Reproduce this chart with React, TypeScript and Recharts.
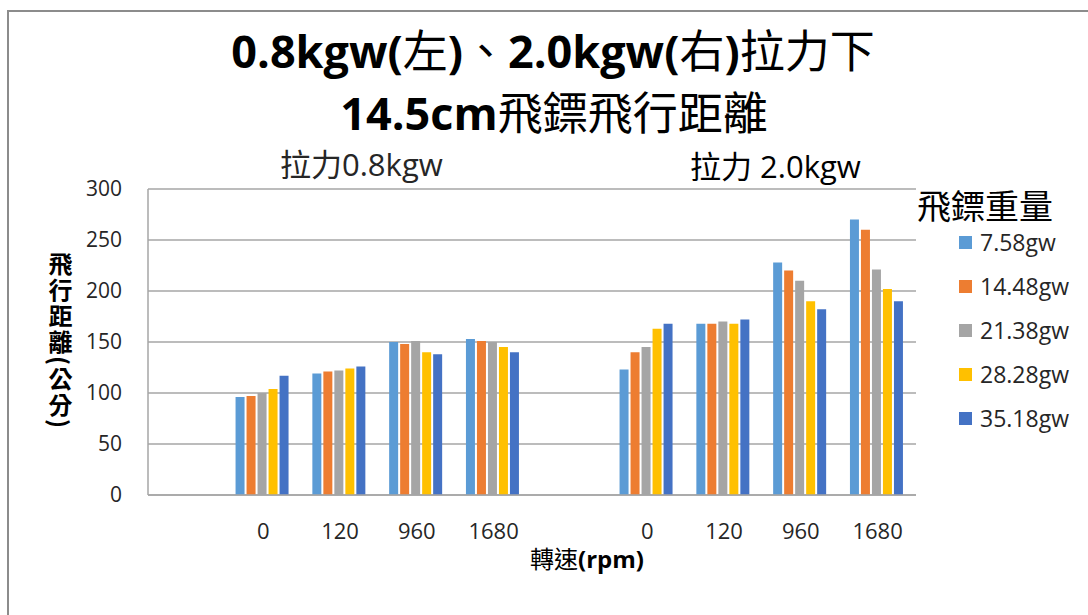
import { BarChart, Bar, XAxis, YAxis, CartesianGrid } from "recharts";

// rotation speeds along the x axis (rpm), repeated for each pull force
const rpmLabels = ["0", "120", "960", "1680"];

// dart weights, one series each
const weightNames = ["7.58gw", "14.48gw", "21.38gw", "28.28gw", "35.18gw"];
const barColors = ["#5B9BD5", "#ED7D31", "#A5A5A5", "#FFC000", "#4472C4"];

// flight distance (cm) at 0.8kgw pull, per weight, across rpmLabels
const pull08 = [
  [96, 119, 150, 153],
  [97, 121, 148, 151],
  [100, 122, 151, 150],
  [104, 124, 140, 145],
  [117, 126, 138, 140],
];

// flight distance (cm) at 2.0kgw pull, per weight, across rpmLabels
const pull20 = [
  [123, 168, 228, 270],
  [140, 168, 220, 260],
  [145, 170, 210, 221],
  [163, 168, 190, 202],
  [168, 172, 182, 190],
];

const yTicks = [0, 50, 100, 150, 200, 250, 300];

const groupRows = (tag: string, values: number[][]) => [
  { id: `gap-${tag}`, rpm: "" } as Record<string, string | number>,
  ...rpmLabels.map((rpm, i) => {
    const row: Record<string, string | number> = { id: `${tag}-${rpm}`, rpm };
    values.forEach((series, s) => (row[`s${s}`] = series[i]));
    return row;
  }),
];

const rows = [...groupRows("0.8", pull08), ...groupRows("2.0", pull20)];

const FONT = "'Open Sans', 'Noto Sans CJK TC', sans-serif";
const CJK = { fontFamily: "'Noto Sans CJK TC', sans-serif", fontWeight: 400 };

const App = () => {
  return (
    <div style={{ position: "fixed", left: 0, top: 0, width: 1088, height: 615, background: "#fff", overflow: "hidden", fontFamily: FONT }}>
      {/* chart frame, only its left and top edges fall inside the page */}
      <div style={{ position: "absolute", left: 7, top: 10, width: 1200, height: 800, borderLeft: "2px solid #8c8c8c", borderTop: "2px solid #8c8c8c" }} />

      <BarChart
        width={1088}
        height={615}
        data={rows}
        margin={{ top: 189, right: 172, bottom: 60, left: 0 }}
        barCategoryGap="14%"
        barGap={2}
        style={{ position: "absolute", left: 0, top: 0 }}
      >
        <CartesianGrid vertical={false} stroke="#a6a6a6" strokeWidth={1.5} />
        <XAxis
          dataKey="id"
          height={60}
          interval={0}
          tickSize={0}
          tickMargin={28}
          tickFormatter={(_v, i) => String(rows[i]?.rpm ?? "")}
          axisLine={{ stroke: "#a6a6a6", strokeWidth: 1.5 }}
          tick={{ fill: "#262626", fontSize: 22, fontFamily: FONT }}
        />
        <YAxis
          width={148}
          domain={[0, 300]}
          ticks={yTicks}
          tickSize={0}
          tickMargin={26}
          axisLine={{ stroke: "#a6a6a6", strokeWidth: 1.5 }}
          tick={{ fill: "#262626", fontSize: 21, fontFamily: FONT }}
        />
        {weightNames.map((name, s) => (
          <Bar key={name} dataKey={`s${s}`} name={name} fill={barColors[s]} isAnimationActive={false} />
        ))}
      </BarChart>

      {/* title */}
      <div style={{ position: "absolute", left: 0, width: 1106, top: 18, textAlign: "center", fontSize: 45, fontWeight: 700, color: "#000", lineHeight: "62px", whiteSpace: "nowrap" }}>
        0.8kgw(<span style={CJK}>左</span>)<span style={CJK}>、</span>2.0kgw(<span style={CJK}>右</span>)<span style={CJK}>拉力下</span>
      </div>
      <div style={{ position: "absolute", left: 0, width: 1108, top: 80, textAlign: "center", fontSize: 45, fontWeight: 700, color: "#000", lineHeight: "62px", whiteSpace: "nowrap" }}>
        14.5cm<span style={CJK}>飛鏢飛行距離</span>
      </div>

      {/* pull force captions above each half */}
      <div style={{ position: "absolute", left: 280, top: 140, fontSize: 31, color: "#262626", whiteSpace: "nowrap" }}>
        <span style={CJK}>拉力</span>0.8kgw
      </div>
      <div style={{ position: "absolute", left: 690, top: 142, fontSize: 31, color: "#000", whiteSpace: "nowrap" }}>
        <span style={CJK}>拉力</span> 2.0kgw
      </div>

      {/* axis titles */}
      <div style={{ position: "absolute", left: 43, top: 252, writingMode: "vertical-rl", fontSize: 24, fontWeight: 700, color: "#000", letterSpacing: 2, fontFamily: "'Noto Sans CJK TC', sans-serif" }}>
        飛行距離(公分)
      </div>
      <div style={{ position: "absolute", left: 530, top: 540, fontSize: 24, fontWeight: 700, color: "#000", whiteSpace: "nowrap" }}>
        <span style={CJK}>轉速</span>(rpm)
      </div>

      {/* legend */}
      <div style={{ position: "absolute", left: 917, top: 188, height: 34, fontSize: 34, color: "#000", whiteSpace: "nowrap", lineHeight: "34px", ...CJK }}>
        飛鏢重量
      </div>
      {weightNames.map((name, s) => (
        <div key={name} style={{ position: "absolute", left: 959, top: 230 + s * 44, height: 24, display: "flex", alignItems: "center", whiteSpace: "nowrap" }}>
          <span style={{ width: 13, height: 13, background: barColors[s], display: "inline-block", marginRight: 8 }} />
          <span style={{ fontSize: 23, lineHeight: "24px", color: "#262626", display: "block" }}>{name}</span>
        </div>
      ))}
    </div>
  );
};

export default App;
